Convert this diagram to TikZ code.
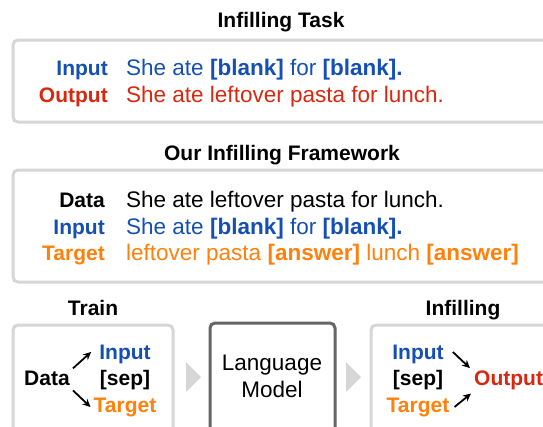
\documentclass[tikz,border=0pt]{standalone}
\usepackage{fontspec}
\setmainfont{Liberation Sans}
\usetikzlibrary{calc,arrows.meta}

\definecolor{inblue}{RGB}{20,80,180}
\definecolor{outred}{RGB}{215,40,15}
\definecolor{tgorange}{RGB}{255,128,10}
\definecolor{panelgray}{RGB}{214,214,214}
\definecolor{lmgray}{RGB}{102,102,102}
\definecolor{chevgray}{RGB}{214,214,214}

\newcommand{\rgfont}{\fontsize{22.5}{26}\selectfont}
\newcommand{\bdfont}{\fontsize{21}{25}\selectfont\bfseries}

\begin{document}
\begin{tikzpicture}[x=1pt,y=-1pt,inner sep=0pt,
  title/.style={font=\bdfont, anchor=base},
  lab/.style={font=\bdfont, anchor=base east},
  sent/.style={font=\rgfont, anchor=base west},
  item/.style={font=\bdfont, anchor=base},
  panel/.style={draw=panelgray, line width=3pt, rounded corners=5pt},
  lmbox/.style={draw=lmgray, line width=3pt, rounded corners=5pt},
  chev/.style={fill=chevgray, draw=none},
  arr/.style={-{Stealth[length=8pt,width=7.5pt]}, line width=1.8pt}]
\useasboundingbox (0,0) rectangle (543,426);

% infilling task
\node[title] (tasktitle) at (281,27) {Infilling Task};
\draw[panel] (13,40) rectangle (570,122);
\node[lab, text=inblue] (tin) at (108,75) {Input};
\node[lab, text=outred] (tout) at (108,102) {Output};
\node[sent, text=inblue] (tins) at (126,75) {She ate \textbf{[blank]} for \textbf{[blank].}};
\node[sent, text=outred] (touts) at (126,102) {She ate leftover pasta for lunch.};

% our framework
\node[title] (fwtitle) at (282,160) {Our Infilling Framework};
\draw[panel] (13,170) rectangle (570,282);
\node[lab] (fdata) at (105,207) {Data};
\node[lab, text=inblue] (fin) at (105,234) {Input};
\node[lab, text=tgorange] (ftg) at (105,260) {Target};
\node[sent] (fdatas) at (126,207) {She ate leftover pasta for lunch.};
\node[sent, text=inblue] (fins) at (126,234) {She ate \textbf{[blank]} for \textbf{[blank].}};
\node[sent, text=tgorange] (ftgs) at (126,260) {leftover pasta \textbf{[answer]} lunch \textbf{[answer]}};

% train
\node[title] (traintitle) at (93,315) {Train};
\draw[panel] (13,325) rectangle (173,450);
\node[item] (data) at (47,385) {Data};
\node[item, text=inblue] (in1) at (125,359) {Input};
\node[item] (sep1) at (125,385) {[sep]};
\node[item, text=tgorange] (tg1) at (125,412) {Target};
\draw[arr] ($(data.north east)+(3,-2)$) -- ($(in1.west)+(-8,-2)$);
\draw[arr] ($(data.south east)+(3,5)$) -- ($(tg1.west)+(-3,0)$);

\fill[chev] (186,362) -- (201,377) -- (186,392) -- cycle;

% language model
\draw[lmbox] (210,323) rectangle (335,450);
\node[font=\rgfont, anchor=base] (lm) at (272,370) {Language};
\node[font=\rgfont, anchor=base] (lm2) at (272,397) {Model};

\fill[chev] (346,362) -- (361,377) -- (346,392) -- cycle;

% infilling
\node[title] (infilltitle) at (463,315) {Infilling};
\draw[panel] (371,325) rectangle (570,450);
\node[item, text=inblue] (in2) at (418,359) {Input};
\node[item] (sep2) at (418,385) {[sep]};
\node[item, text=tgorange] (tg2) at (418,412) {Target};
\node[item, text=outred, anchor=base west] (out) at (474,385) {Output};
\draw[arr] ($(in2.east)+(9,-2)$) -- ($(out.north west)+(-4,-2)$);
\draw[arr] ($(tg2.east)+(5,0)$) -- ($(out.south west)+(-3,4)$);
\end{tikzpicture}
\end{document}
